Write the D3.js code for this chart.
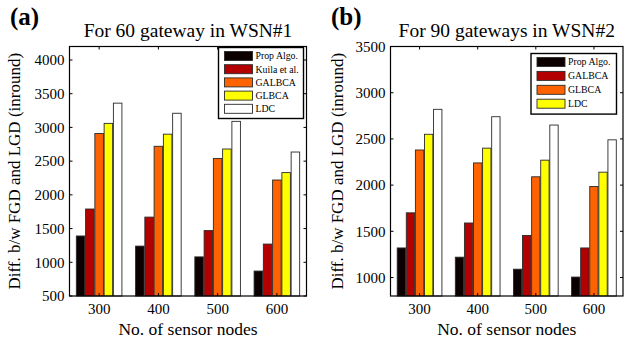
<!DOCTYPE html>
<html>
<head>
<meta charset="utf-8">
<script src="https://cdn.jsdelivr.net/npm/d3@7"></script>
<style>
  body { margin: 0; background: #fff; }
  text { font-family: 'Liberation Serif', 'Times New Roman', Times, 'DejaVu Serif', serif; }
</style>
</head>
<body>
<svg width="624" height="341"></svg>
<script>
// categories on the x axis
const sensorNodes = ["300", "400", "500", "600"];

// panel (a): 60 gateways, WSN#1
const seriesA = ["Prop Algo.", "Kuila et al.", "GALBCA", "GLBCA", "LDC"];
const valuesA = [
  [1390, 1240, 1080, 870],
  [1790, 1670, 1470, 1270],
  [2910, 2720, 2540, 2220],
  [3060, 2900, 2680, 2330],
  [3360, 3210, 3090, 2635]
];
const yTicksA = [500, 1000, 1500, 2000, 2500, 3000, 3500, 4000];

// panel (b): 90 gateways, WSN#2 (fifth bar has no legend entry)
const seriesB = ["Prop Algo.", "GALBCA", "GLBCA", "LDC"];
const valuesB = [
  [1320, 1220, 1090, 1005],
  [1700, 1590, 1455, 1320],
  [2380, 2240, 2090, 1985],
  [2550, 2400, 2270, 2140],
  [2820, 2740, 2650, 2490]
];
const yTicksB = [1000, 1500, 2000, 2500, 3000, 3500];

const barColors = ["#0c0000", "#b30000", "#ff6200", "#ffff00", "#ffffff"];

const svg = d3.select('svg');
const serif = "'Liberation Serif', 'Times New Roman', Times, serif";

function drawPanel(opt) {
  const g = svg.append('g').attr('font-family', serif);
  const x0 = d3.scaleBand().domain(sensorNodes).range([opt.left, opt.right]);
  const inner = x0.bandwidth() * 5 / 6.5;
  const x1 = d3.scaleBand().domain(d3.range(opt.values.length))
    .range([0, inner]).paddingInner(0.08);
  const y = d3.scaleLinear().domain(opt.yDomain).range([opt.bottom, opt.top]);

  // bars
  opt.values.forEach((vals, s) => {
    g.selectAll('.bar' + s).data(vals)
      .enter().append('rect')
        .attr('x', (d, i) => x0(sensorNodes[i]) + (x0.bandwidth() - inner) / 2 + x1(s))
        .attr('y', d => y(d))
        .attr('width', x1.bandwidth())
        .attr('height', d => opt.bottom - y(d))
        .attr('fill', barColors[s])
        .attr('stroke', '#2a2a2a')
        .attr('stroke-width', 0.9);
  });

  // inward ticks on all four sides
  const tl = 3;
  opt.yTicks.forEach(t => {
    g.append('line').attr('x1', opt.left).attr('x2', opt.left + tl)
      .attr('y1', y(t)).attr('y2', y(t)).attr('stroke', '#000');
    g.append('line').attr('x1', opt.right).attr('x2', opt.right - tl)
      .attr('y1', y(t)).attr('y2', y(t)).attr('stroke', '#000');
    g.append('text').attr('x', opt.left - 5).attr('y', y(t))
      .attr('dy', '0.35em').attr('text-anchor', 'end')
      .attr('font-size', 15).text(t);
  });
  sensorNodes.forEach(c => {
    const cx = x0(c) + x0.bandwidth() / 2;
    g.append('line').attr('x1', cx).attr('x2', cx)
      .attr('y1', opt.top).attr('y2', opt.top + tl).attr('stroke', '#000');
    g.append('line').attr('x1', cx).attr('x2', cx)
      .attr('y1', opt.bottom).attr('y2', opt.bottom - tl).attr('stroke', '#000');
    g.append('text').attr('x', cx).attr('y', opt.bottom + 18)
      .attr('text-anchor', 'middle').attr('font-size', 15).text(c);
  });

  // frame
  g.append('rect')
    .attr('x', opt.left).attr('y', opt.top)
    .attr('width', opt.right - opt.left).attr('height', opt.bottom - opt.top)
    .attr('fill', 'none').attr('stroke', '#000').attr('stroke-width', 1.2);

  // legend
  const lg = g.append('g').attr('transform', `translate(${opt.legX},${opt.legY})`);
  lg.append('rect').attr('width', opt.legW).attr('height', opt.legend.length * opt.legStep + 5)
    .attr('fill', '#fff').attr('stroke', '#000').attr('stroke-width', 1.4);
  opt.legend.forEach((name, i) => {
    lg.append('rect').attr('x', 6).attr('y', 4 + i * opt.legStep)
      .attr('width', 28).attr('height', 9)
      .attr('fill', barColors[i]).attr('stroke', '#2a2a2a').attr('stroke-width', 0.9);
    lg.append('text').attr('x', 37).attr('y', 4 + i * opt.legStep + 4.5)
      .attr('dy', '0.35em').attr('font-size', 9.8).text(name);
  });

  // titles and labels
  const cxp = (opt.left + opt.right) / 2;
  const cyp = (opt.top + opt.bottom) / 2;
  g.append('text').attr('x', cxp).attr('y', 37).attr('text-anchor', 'middle')
    .attr('font-size', 19.5).text(opt.title);
  g.append('text').attr('x', opt.tagX).attr('y', 25).attr('font-size', 25)
    .attr('font-weight', 'bold').text(opt.tag);
  g.append('text').attr('x', cxp).attr('y', 335).attr('text-anchor', 'middle')
    .attr('font-size', 17.5).text('No. of sensor nodes');
  g.append('text')
    .attr('transform', `translate(${opt.yLabX},${cyp}) rotate(-90)`)
    .attr('text-anchor', 'middle').attr('font-size', 17)
    .text('Diff. b/w FGD and LGD (inround)');
}

drawPanel({
  left: 69.5, right: 306.5, top: 46.5, bottom: 296,
  values: valuesA, yDomain: [500, 4200], yTicks: yTicksA,
  legend: seriesA, legX: 218.5, legY: 47.5, legW: 85, legStep: 13.2,
  title: 'For 60 gateway in WSN#1', tag: '(a)', tagX: 10, yLabX: 20
});

drawPanel({
  left: 390.5, right: 623, top: 46.5, bottom: 296,
  values: valuesB, yDomain: [800, 3500], yTicks: yTicksB,
  legend: seriesB, legX: 531, legY: 53.5, legW: 85.5, legStep: 13.9,
  title: 'For 90 gateways in WSN#2', tag: '(b)', tagX: 331, yLabX: 343
});
</script>
</body>
</html>
